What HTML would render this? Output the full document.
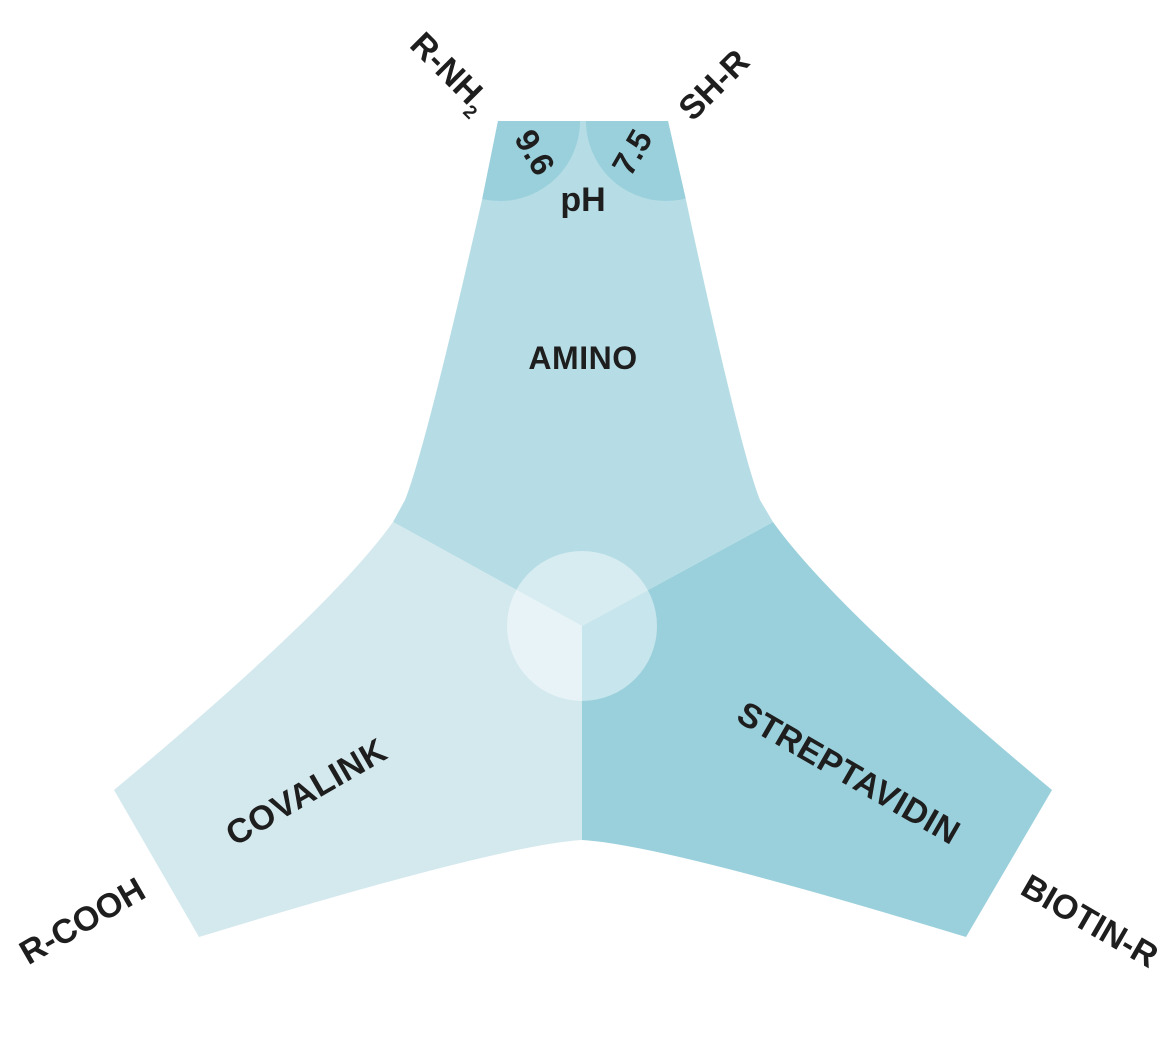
<!DOCTYPE html>
<html><head><style>
html,body{margin:0;padding:0;background:#fff;}
svg{display:block;}
text{font-family:"Liberation Sans",Arial,sans-serif;font-weight:bold;fill:#1e1e1e;}
</style></head><body>
<svg width="1168" height="1042" viewBox="0 0 1168 1042" xmlns="http://www.w3.org/2000/svg">
<defs>
<clipPath id="topclip"><path d="M498,121 L668,121 L686,200 Q740,450 760,500 L773,522 L582,626 L393,522 L405,500 Q425,450 482,200 Z"/></clipPath>
</defs>
<path d="M498,121 L668,121 L686,200 Q740,450 760,500 L773,522 L582,626 L393,522 L405,500 Q425,450 482,200 Z" fill="#b6dde5"/>
<path d="M393,522 Q330,610 114,790 L199,937 Q500,845 582,840 L582,626 Z" fill="#d4e9ee"/>
<path d="M773,522 Q836,610 1052,790 L966,937 Q665,845 582,840 L582,626 Z" fill="#9ad0dc"/>
<g clip-path="url(#topclip)" fill="#9ad0dc">
<circle cx="500" cy="121" r="80"/>
<circle cx="666" cy="121" r="80"/>
</g>
<circle cx="582" cy="626" r="75" fill="#fff" fill-opacity="0.45"/>
<text x="583" y="211" font-size="34" text-anchor="middle">pH</text>
<text x="583" y="369" font-size="32" letter-spacing="0.5" text-anchor="middle">AMINO</text>
<text font-size="33" text-anchor="middle" transform="translate(525,158) rotate(60)">9.6</text>
<text font-size="33" text-anchor="middle" transform="translate(642,158) rotate(-60)">7.5</text>
<text font-size="34" text-anchor="middle" transform="translate(442,80) rotate(45)">R-NH<tspan font-size="19" dy="9">2</tspan></text>
<text font-size="34" text-anchor="middle" transform="translate(722,93) rotate(-45)">SH-R</text>
<text font-size="34" letter-spacing="0.5" text-anchor="middle" transform="translate(312,802) rotate(-30)">COVALINK</text>
<text font-size="34" letter-spacing="0.5" text-anchor="middle" transform="translate(843,783) rotate(30)">STREPTAVIDIN</text>
<text font-size="34" text-anchor="middle" transform="translate(88,931) rotate(-30)">R-COOH</text>
<text font-size="34" text-anchor="middle" transform="translate(1084,931) rotate(30)">BIOTIN-R</text>
</svg>
</body></html>
